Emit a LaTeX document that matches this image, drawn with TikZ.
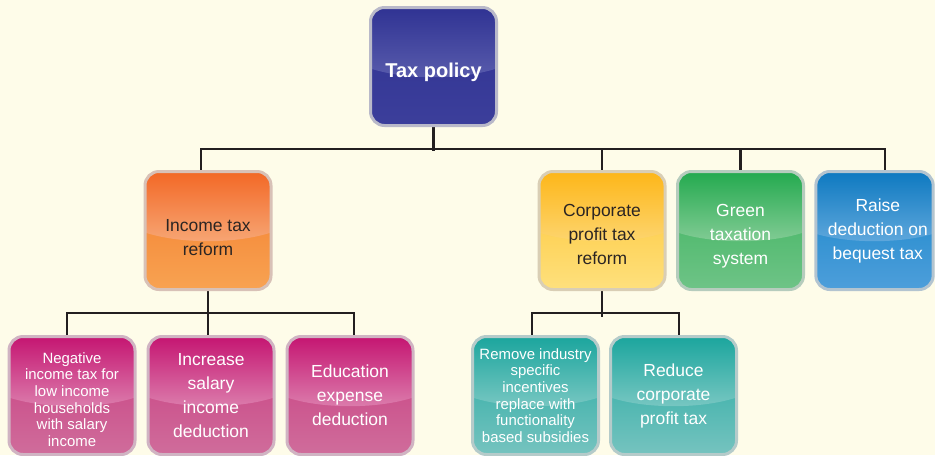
\documentclass[tikz,border=0pt]{standalone}
\usepackage{fontspec}
\setmainfont{Liberation Sans}
\usetikzlibrary{calc}
\pgfdeclarelayer{bg}
\pgfsetlayers{bg,main}
\definecolor{bgc}{HTML}{FEFCE9}
\definecolor{linec}{HTML}{231F20}
\definecolor{txtdark}{HTML}{2B2523}
\definecolor{tpA}{HTML}{2E3192}\definecolor{tpB}{HTML}{5A5DAD}\definecolor{tpC}{HTML}{2F3192}\definecolor{tpD}{HTML}{3C3F9B}
\definecolor{inA}{HTML}{F26522}\definecolor{inB}{HTML}{F7A877}\definecolor{inC}{HTML}{F37B2C}\definecolor{inD}{HTML}{F8A453}
\definecolor{coA}{HTML}{FDB515}\definecolor{coB}{HTML}{FDD672}\definecolor{coC}{HTML}{FDC432}\definecolor{coD}{HTML}{FEE17F}
\definecolor{grA}{HTML}{1FA84B}\definecolor{grB}{HTML}{86CD98}\definecolor{grC}{HTML}{38B25A}\definecolor{grD}{HTML}{70C488}
\definecolor{blA}{HTML}{0A77BF}\definecolor{blB}{HTML}{62A9DD}\definecolor{blC}{HTML}{1484C8}\definecolor{blD}{HTML}{4F9FDB}
\definecolor{mgA}{HTML}{C4116F}\definecolor{mgB}{HTML}{DC80AE}\definecolor{mgC}{HTML}{C73B7F}\definecolor{mgD}{HTML}{D06E9C}
\definecolor{tlA}{HTML}{17A49C}\definecolor{tlB}{HTML}{7BC8C3}\definecolor{tlC}{HTML}{21A8A0}\definecolor{tlD}{HTML}{78C4C0}
\newcommand{\fsmain}{\fontsize{13.1pt}{18pt}\selectfont}
\newcommand{\fssmall}{\fontsize{11.2pt}{12.5pt}\selectfont}
\newcommand{\fstitle}{\fontsize{15pt}{18pt}\selectfont\bfseries}
\newcommand{\dn}[1]{\rule{0pt}{#1}}
\tikzset{
  gbox/.style n args={5}{rectangle, rounded corners=10.5pt,
    minimum width=94.5pt, minimum height=88.5pt, inner sep=0pt,
    line width=2.25pt, draw={#1!35!gray!45!white}, text=#5,
    align=center, font=\fsmain,
    path picture={
      \shade[top color=#3, bottom color=#4]
        ([shift={(-80,-6)}]path picture bounding box.center) rectangle
        ([shift={(80,62)}]path picture bounding box.center);
      \shade[top color=#1, bottom color=#2]
        ([shift={(-80,-62)}]path picture bounding box.center) --
        ([shift={(80,-62)}]path picture bounding box.center) --
        ([shift={(80,-4)}]path picture bounding box.center) .. controls
        ([shift={(30,14)}]path picture bounding box.center) and
        ([shift={(-30,14)}]path picture bounding box.center) ..
        ([shift={(-80,-4)}]path picture bounding box.center) -- cycle;
    }},
  conn/.style={draw=linec, line width=2pt}
}
\begin{document}
\begin{tikzpicture}[x=0.75pt, y=-0.75pt]
\begin{pgfonlayer}{bg}
\fill[bgc] (0,0) rectangle (935,455);
\end{pgfonlayer}
\useasboundingbox (0,0) rectangle (935,455);

\node[gbox={tpA}{tpB}{tpC}{tpD}{white}, font=\fstitle] (tp) at (433.5,66.5) {\dn{19.7pt}Tax policy};

\node[gbox={inA}{inB}{inC}{inD}{txtdark}] (inc) at (208,230.5) {\dn{19.9pt}Income tax\\reform};
\node[gbox={coA}{coB}{coC}{coD}{txtdark}] (co) at (602,230.5) {\dn{15.4pt}Corporate\\profit tax\\reform};
\node[gbox={grA}{grB}{grC}{grD}{white}] (gr) at (740.5,230.5) {\dn{18.4pt}Green\\taxation\\system};
\node[gbox={blA}{blB}{blC}{blD}{white}, minimum width=88pt] (ra) at (874.5,230.5) {\hspace*{5pt}Raise\\\hspace*{5pt}deduction on\\\hspace*{5pt}bequest tax};

\node[gbox={mgA}{mgB}{mgC}{mgD}{white}, font=\fssmall] (neg) at (72,395.5) {\dn{14pt}Negative\\income tax for\\low income\\households\\with salary\\income};
\node[gbox={mgA}{mgB}{mgC}{mgD}{white}] (incr) at (211,395.5) {Increase\\salary\\income\\deduction};
\node[gbox={mgA}{mgB}{mgC}{mgD}{white}] (edu) at (350,395.5) {Education\\expense\\deduction};

\node[gbox={tlA}{tlB}{tlC}{tlD}{white}, font=\fssmall] (rm) at (535.5,395.5) {Remove industry\\specific\\incentives\\replace with\\functionality\\based subsidies};
\node[gbox={tlA}{tlB}{tlC}{tlD}{white}] (rd) at (673.5,395.5) {Reduce\\corporate\\profit tax};

\begin{pgfonlayer}{bg}
\draw[conn] (tp.south) -- ++(0,24);
\draw[conn] ($(inc.north)+(-7,0)$) -- ++(0,-21) -| ($(ra.north)+(10.5,0)$);
\draw[conn] (co.north) -- ++(0,-21);
\draw[conn] (gr.north) -- ++(0,-21);
\draw[conn] (inc.south) -- (inc.south |- incr.north);
\draw[conn] ($(neg.north)+(-5,0)$) -- ++(0,-22) -| ($(edu.north)+(4,0)$);
\draw[conn] (co.south) -- ++(0,26);
\draw[conn] ($(rm.north)+(-3.5,0)$) -- ++(0,-22) -| ($(rd.north)+(5.5,0)$);
\end{pgfonlayer}
\end{tikzpicture}
\end{document}
